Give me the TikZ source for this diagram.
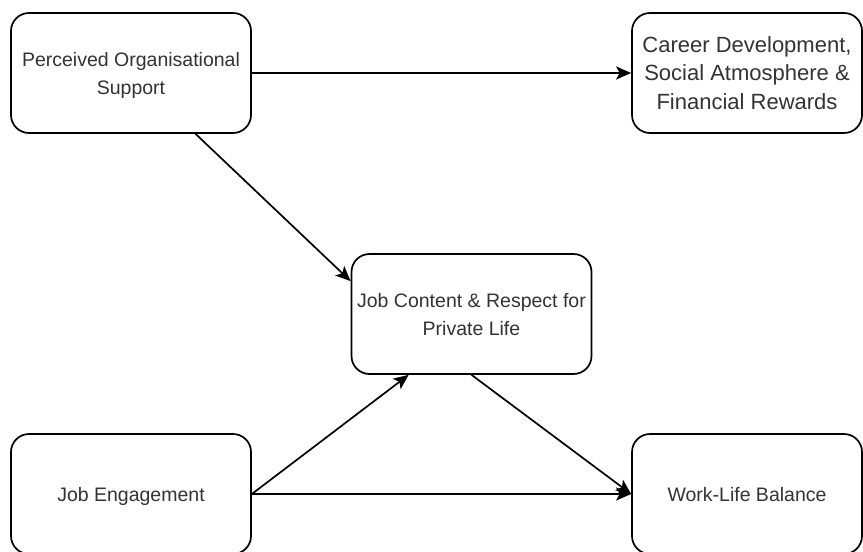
\documentclass[tikz,border=0pt]{standalone}
\usepackage{fontspec}
\setmainfont{Liberation Sans}
\usetikzlibrary{arrows.meta,calc}
\definecolor{labelgray}{HTML}{333333}
\tikzset{
  factor/.style={draw=black, line width=1.7pt, rounded corners=18pt, fill=white,
    minimum height=120pt, inner sep=0pt, align=center, text=labelgray,
    text depth=0pt, font=\fontsize{19.5}{28}\selectfont},
  wide/.style={minimum width=240pt},
  narrow/.style={minimum width=230pt},
  link/.style={draw=black, line width=1.7pt, -{Stealth[length=15pt, width=13pt, inset=3.5pt]}}
}
\begin{document}
\begin{tikzpicture}[x=1pt, y=-1pt]
  \useasboundingbox (0,0) rectangle (863,552);
  \clip (0,0) rectangle (863,552);
  \fill[white] (0,0) rectangle (863,552);

  % factor boxes
  \node[factor, wide]   (pos)    at (131,73)  {Perceived Organisational\\Support};
  \node[factor, narrow, font=\fontsize{22}{28.5}\selectfont]
                        (career) at (747,73)  {Career Development,\\Social Atmosphere \&\\Financial Rewards};
  \node[factor, wide]   (jc)     at (471.5,314) {Job Content \& Respect for\\Private Life};
  \node[factor, wide]   (je)     at (131,494) {Job Engagement};
  \node[factor, narrow] (wlb)    at (747,494) {Work-Life Balance};

  % relations
  \draw[link] (pos.east) -- (career.west);
  \draw[link] ($(pos.south west)!0.767!(pos.south east)$) -- ($(jc.north west)!0.23!(jc.south west)$);
  \draw[link] (je.east) -- ($(jc.south west)!0.24!(jc.south east)$);
  \draw[link] (jc.south) -- (wlb.west);
  \draw[link] (je.east) -- (wlb.west);
\end{tikzpicture}
\end{document}
